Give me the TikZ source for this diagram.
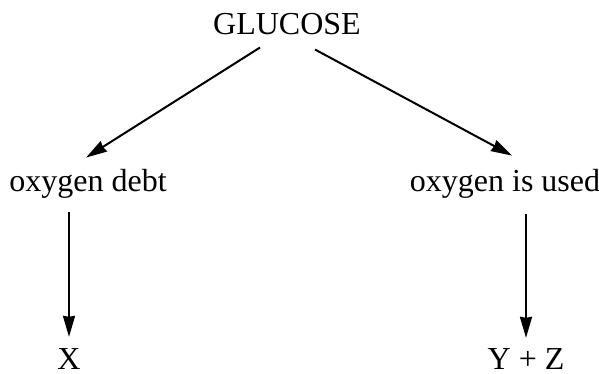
\documentclass[tikz,border=0pt]{standalone}
\usepackage{fontspec}
\setmainfont{Liberation Serif}
\usetikzlibrary{arrows.meta,calc}
\begin{document}
\begin{tikzpicture}[x=1pt,y=-1pt,
  lbl/.style={inner sep=0pt,anchor=base,font=\fontsize{32}{36}\selectfont},
  arr/.style={line width=2pt,-{Triangle[length=21pt,width=12pt,inset=1pt]}}]
\useasboundingbox (0,0) rectangle (599,374);
% terms
\node[lbl] (g)  at (287,35)  {GLUCOSE};
\node[lbl] (od) at (88,192)  {oxygen debt};
\node[lbl] (ou) at (505,192) {oxygen is used};
\node[lbl] (x)  at (69,369)  {X};
\node[lbl] (yz) at (526,369) {Y + Z};
% connectors
\draw[arr] ([shift={(-27,12)}]g.south) -- ([shift={(-2,-12)}]od.north);
\draw[arr] ([shift={(28,14)}]g.south) -- ([shift={(7,-14)}]ou.north);
\draw[arr] ($(x.north |- od.south)+(0,13)$) -- ([shift={(0,-11)}]x.north);
\draw[arr] ($(yz.north |- ou.south)+(0,15)$) -- ([shift={(0,-10)}]yz.north);
\end{tikzpicture}
\end{document}
